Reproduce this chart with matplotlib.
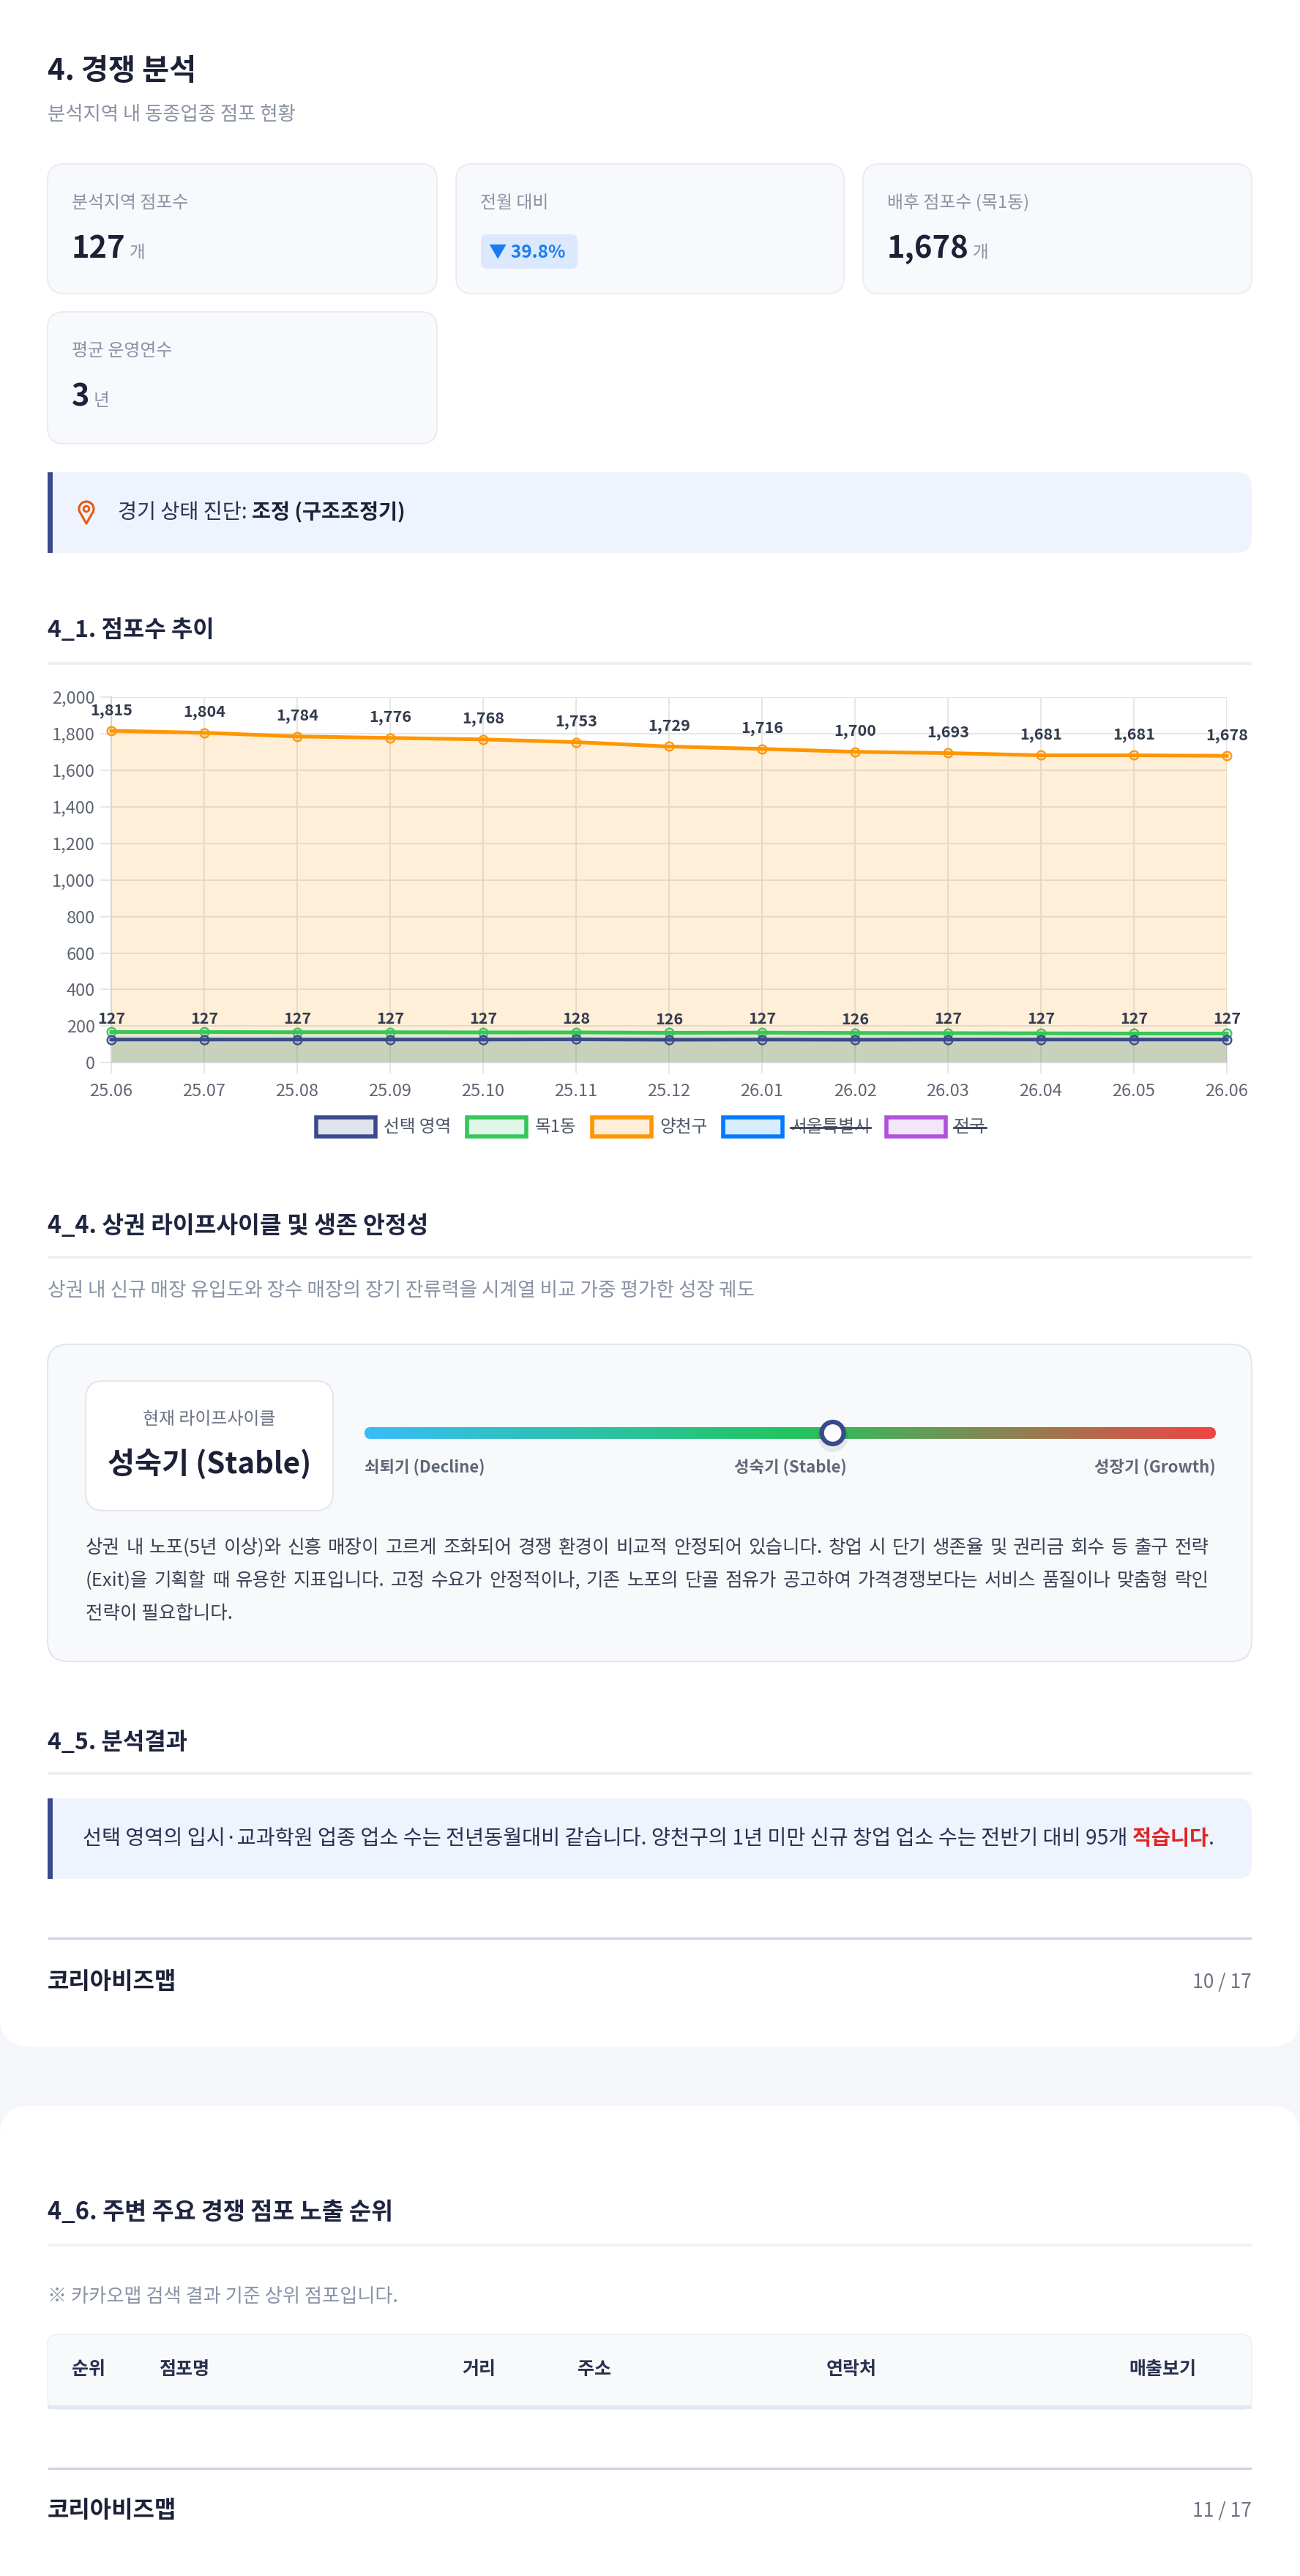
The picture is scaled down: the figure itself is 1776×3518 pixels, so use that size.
import numpy as np
import matplotlib
matplotlib.use("Agg")
import matplotlib.pyplot as plt
from matplotlib.patches import FancyBboxPatch, Rectangle, Circle, Polygon
from matplotlib.colors import LinearSegmentedColormap, to_rgba

plt.rcParams['font.family'] = ['Noto Sans CJK KR', 'DejaVu Sans']

# ---- 데이터 ----
months = ['25.06', '25.07', '25.08', '25.09', '25.10', '25.11', '25.12',
          '26.01', '26.02', '26.03', '26.04', '26.05', '26.06']
sel_area = [127, 127, 127, 127, 127, 128, 126, 127, 126, 127, 127, 127, 127]
mok1 = [168, 168, 167, 167, 166, 166, 164, 165, 163, 162, 161, 160, 160]
yangcheon = [1815, 1804, 1784, 1776, 1768, 1753, 1729, 1716, 1700, 1693, 1681, 1681, 1678]

legend_names = ['선택 영역', '목1동', '양천구', '서울특별시', '전국']
legend_colors = ['#3a4a8c', '#34c759', '#ff9500', '#007aff', '#af52de']
legend_hidden = [False, False, False, True, True]

stat_labels = ['분석지역 점포수', '전월 대비', '배후 점포수 (목1동)', '평균 운영연수']
stat_values = ['127', '39.8%', '1,678', '3']
stat_units = ['개', '', '개', '년']

stage_names = ['쇠퇴기 (Decline)', '성숙기 (Stable)', '성장기 (Growth)']
stage_pos = 0.55   # 현재 위치 (0=쇠퇴, 1=성장)

table_cols = ['순위', '점포명', '거리', '주소', '연락처', '매출보기']

# ---- 캔버스 ----
W, H = 1776, 3518
fig = plt.figure(figsize=(W / 100, H / 100), dpi=100)
fig.patch.set_facecolor('#f4f6f9')
bg = fig.add_axes([0, 0, 1, 1])
bg.set_xlim(0, W)
bg.set_ylim(H, 0)
bg.axis('off')
renderer = fig.canvas.get_renderer()

DARK = '#1c2138'
GRAY = '#8a93a5'
NAVY = '#3a4a8c'


def rbox(x0, y0, x1, y1, r, fc, ec='none', lw=0, z=1):
    p = FancyBboxPatch((x0, y0), x1 - x0, y1 - y0,
                       boxstyle=f"round,pad=0,rounding_size={r}",
                       fc=fc, ec=ec, lw=lw, zorder=z)
    bg.add_patch(p)
    return p


def txt(x, y, s, size, color=DARK, weight='normal', ha='left', va='center', z=5):
    return bg.text(x, y, s, fontsize=size, color=color, fontweight=weight,
                   ha=ha, va=va, zorder=z)


def runs(x, y, parts, size, va='center'):
    for s, color, weight in parts:
        t = txt(x, y, s, size, color, weight, va=va)
        x += t.get_window_extent(renderer).width
    return x


def justify(x0, x1, y, line, size, color):
    # 양쪽 정렬: 단어 사이 간격을 고르게 늘린다
    words = line.split(' ')
    ts = [txt(0, y, w, size, color) for w in words]
    ws = [t.get_window_extent(renderer).width for t in ts]
    gap = (x1 - x0 - sum(ws)) / (len(words) - 1)
    xx = x0
    for t, w in zip(ts, ws):
        t.set_x(xx)
        xx += w + gap


def hline(y, x0=65, x1=1710, color='#eef0f4', lw=2.8):
    bg.plot([x0, x1], [y, y], color=color, lw=lw, solid_capstyle='butt', zorder=2)


# 카드
rbox(0, -60, W, 2795, 40, 'white')
rbox(0, 2876, W, 3620, 40, 'white')

# 헤더
txt(65, 97, '4. 경쟁 분석', 29, DARK, 'bold')
txt(65, 156, '분석지역 내 동종업종 점포 현황', 19, GRAY)

# 통계 카드
cards = [(65, 224, 597, 401), (623, 224, 1153, 401), (1179, 224, 1710, 401), (65, 426, 597, 606)]
for i, (x0, y0, x1, y1) in enumerate(cards):
    rbox(x0, y0, x1, y1, 22, '#f8f9fc', '#e9ecf2', 1.4)
    txt(x0 + 33, y0 + 53, stat_labels[i], 17.2, GRAY)
    vy = y0 + 128
    if i == 1:
        rbox(x0 + 34, y0 + 96, x0 + 166, y0 + 143, 8, '#dce9fc', z=3)
        txt(x0 + 45, y0 + 120, '▼ ' + stat_values[i], 17.5, '#1a7cf0', 'bold')
    else:
        t = txt(x0 + 33, vy, stat_values[i], 30, DARK, 'bold', va='baseline')
        w = t.get_window_extent(renderer).width
        txt(x0 + 33 + w + 5, vy, stat_units[i], 17, GRAY, va='baseline')

# 경기 상태 진단
rbox(65, 645, 1710, 755, 20, '#eef3fd', z=2)
bg.add_patch(Rectangle((65, 645), 40, 110, fc='#eef3fd', ec='none', zorder=2))
bg.add_patch(Rectangle((65, 645), 7, 110, fc=NAVY, ec='none', zorder=3))
# 위치 아이콘
cx, cy, r = 118, 695, 10
th = np.radians(np.linspace(-40, 220, 60))
pts = [(cx + r * np.cos(a), cy - r * np.sin(a)) for a in th] + [(cx, cy + 2.0 * r)]
bg.add_patch(Polygon(pts, closed=True, fc='none', ec='#e8590c', lw=2.2,
                     joinstyle='round', zorder=4))
bg.add_patch(Circle((cx, cy), 3.8, fc='none', ec='#e8590c', lw=2, zorder=4))
runs(161, 700, [('경기 상태 진단: ', '#2a3150', 'normal'),
                ('조정 (구조조정기)', DARK, 'bold')], 20.4)

# 4_1 점포수 추이
txt(65, 861, '4_1. 점포수 추이', 23, '#1f2540', 'bold')
hline(906)

ax = fig.add_axes([152 / W, 1 - 1451.4 / H, (1676 - 152) / W, (1451.4 - 951.8) / H])
ax.patch.set_alpha(0)
x = np.arange(len(months))
series = [(yangcheon, '#ff9500', 3), (mok1, '#34c759', 4), (sel_area, NAVY, 5)]
for vals, c, z in series:
    ax.fill_between(x, vals, 0, color=c, alpha=0.15, lw=0, zorder=1)
for vals, c, z in series:
    ax.plot(x, vals, color=c, lw=3.6, marker='o', ms=8.5, mfc=to_rgba(c, 0.15),
            mec=c, mew=1.6, zorder=z, clip_on=False)
for vals in (yangcheon, sel_area):
    for i, v in enumerate(vals):
        ax.annotate(f'{v:,}', (i, v), xytext=(0, 20), textcoords='offset points',
                    ha='center', va='center', fontsize=15.5, fontweight='bold',
                    color='#333b4d', zorder=6, annotation_clip=False)
ax.set_xlim(0, 12)
ax.set_ylim(0, 2000)
ax.set_xticks(x)
ax.set_xticklabels(months)
ax.set_yticks(range(0, 2001, 200))
ax.set_yticklabels([f'{v:,}' for v in range(0, 2001, 200)])
ax.grid(True, color='#e4e4e4', lw=1.3, alpha=1)
ax.set_axisbelow(True)
ax.tick_params(length=11, width=1.3, color='#e4e4e4', labelsize=17,
               labelcolor='#5f6673')
ax.tick_params(axis='y', pad=5)
ax.tick_params(axis='x', pad=9)
for s in ('top', 'right'):
    ax.spines[s].set_visible(False)
for s in ('left', 'bottom'):
    ax.spines[s].set_color('#d6d6d6')
    ax.spines[s].set_linewidth(1.5)

# 범례
tw = []
for name in legend_names:
    t = bg.text(0, 0, name, fontsize=17)
    tw.append(t.get_window_extent(renderer).width)
    t.remove()
total = sum(86 + 9 + w for w in tw) + 19 * (len(tw) - 1)
lx = 888 - total / 2
ly = 1539
for name, c, hid, w in zip(legend_names, legend_colors, legend_hidden, tw):
    bg.add_patch(Rectangle((lx + 2.5, ly - 13), 81, 26, fc=to_rgba(c, 0.15), ec=c, lw=4, zorder=3))
    txt(lx + 95, ly, name, 17, '#4d5567')
    if hid:
        bg.plot([lx + 95, lx + 95 + w], [ly + 1, ly + 1], color='#3a4255', lw=2, zorder=6)
    lx += 86 + 9 + w + 19

# 4_4 라이프사이클
txt(65, 1674, '4_4. 상권 라이프사이클 및 생존 안정성', 23.3, '#1f2540', 'bold')
hline(1717)
txt(65, 1762, '상권 내 신규 매장 유입도와 장수 매장의 장기 잔류력을 시계열 비교 가중 평가한 성장 궤도', 19.2, GRAY)
rbox(65, 1836, 1710, 2269, 28, '#f8f9fb', '#e2e6ee', 1.5)
rbox(117, 1886, 455, 2063, 24, 'white', '#e2e6ee', 1.5, z=2)
txt(286, 1938, '현재 라이프사이클', 17.2, '#6b7385', ha='center')
txt(286, 2000, '성숙기 (Stable)', 29, DARK, 'bold', ha='center')

bx0, bx1, by0, by1 = 498, 1661, 1949, 1965
cmap = LinearSegmentedColormap.from_list('life', ['#38bdf8', '#22c55e', '#ef4444'])
grad = np.linspace(0, 1, 512).reshape(1, -1)
clip = rbox(bx0, by0, bx1, by1, 8, 'none', z=2)
im = bg.imshow(grad, cmap=cmap, extent=(bx0, bx1, by1, by0), aspect='auto', zorder=3)
im.set_clip_path(clip)
bg.set_xlim(0, W)
bg.set_ylim(H, 0)
mx = bx0 + stage_pos * (bx1 - bx0)
bg.add_patch(Circle((mx, 1962), 21, fc=(0, 0, 0, 0.07), ec='none', zorder=4))
bg.add_patch(Circle((mx, 1957), 15, fc='white', ec=NAVY, lw=4.5, zorder=5))
txt(bx0, 2005, stage_names[0], 16, '#5f6779', 'bold')
txt((bx0 + bx1) / 2, 2005, stage_names[1], 16, '#5f6779', 'bold', ha='center')
txt(bx1, 2005, stage_names[2], 16, '#5f6779', 'bold', ha='right')

para = ['상권 내 노포(5년 이상)와 신흥 매장이 고르게 조화되어 경쟁 환경이 비교적 안정되어 있습니다. 창업 시 단기 생존율 및 권리금 회수 등 출구 전략',
        '(Exit)을 기획할 때 유용한 지표입니다. 고정 수요가 안정적이나, 기존 노포의 단골 점유가 공고하여 가격경쟁보다는 서비스 품질이나 맞춤형 락인',
        '전략이 필요합니다.']
for k, line in enumerate(para):
    yy = 2114 + 45 * k
    if k < len(para) - 1:
        justify(117, 1652, yy, line, 18.4, '#3a4255')
    else:
        txt(117, yy, line, 18.4, '#3a4255')

# 4_5 분석결과
txt(65, 2380, '4_5. 분석결과', 23, '#1f2540', 'bold')
hline(2422)
rbox(65, 2456, 1710, 2566, 20, '#eef3fd', z=2)
bg.add_patch(Rectangle((65, 2456), 40, 110, fc='#eef3fd', ec='none', zorder=2))
bg.add_patch(Rectangle((65, 2456), 7, 110, fc=NAVY, ec='none', zorder=3))
runs(113, 2511, [('선택 영역의 입시·교과학원 업종 업소 수는 전년동월대비 같습니다. 양천구의 1년 미만 신규 창업 업소 수는 전반기 대비 95개 ', '#2a3150', 'normal'),
                 ('적습니다', '#e02424', 'bold'),
                 ('.', '#2a3150', 'normal')], 20.4)

hline(2647, color='#cbd5e1', lw=2.2)
txt(65, 2707, '코리아비즈맵', 23, DARK, 'bold')
txt(1710, 2707, '10 / 17', 19, '#6b7385', ha='right')

# 4_6 노출 순위
txt(65, 3022, '4_6. 주변 주요 경쟁 점포 노출 순위', 23.5, '#1f2540', 'bold')
hline(3066)
txt(65, 3136, '※ 카카오맵 검색 결과 기준 상위 점포입니다.', 18.9, GRAY)
rbox(65, 3188, 1710, 3290, 14, '#f8f9fb', '#eceff4', 1.2)
hline(3287, color='#e2e8f0', lw=3.5)
for name, cxp in zip(table_cols, [98, 217, 631, 789, 1129, 1542]):
    txt(cxp, 3236, name, 18, '#2a3150', 'bold')

hline(3371, color='#cbd5e1', lw=2.2)
txt(65, 3429, '코리아비즈맵', 23, DARK, 'bold')
txt(1710, 3429, '11 / 17', 19, '#6b7385', ha='right')

fig.savefig('out.png', dpi=100, facecolor=fig.get_facecolor())
